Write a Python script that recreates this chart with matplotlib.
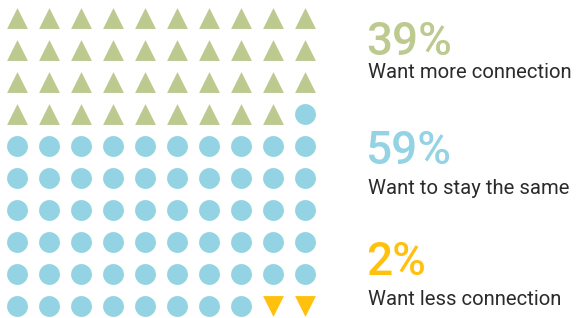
import matplotlib
matplotlib.use("Agg")
import matplotlib.pyplot as plt

# share of answers (out of 100)
labels = ["Want more connection", "Want to stay the same", "Want less connection"]
values = [39, 59, 2]
markers = ["^", "o", "v"]
colors = ["#bcc98f", "#93d3e3", "#ffc10e"]

W, H = 583, 318
fig = plt.figure(figsize=(W / 100, H / 100), dpi=100)

# waffle grid, 10 x 10, filled row by row
ax = fig.add_axes([1 / W, (H - 322) / H, 320 / W, 320 / H])
ax.set_xlim(-0.5, 9.5)
ax.set_ylim(9.5, -0.5)
ax.axis("off")

idx = 0
for v, m, c in zip(values, markers, colors):
    xs = [(idx + k) % 10 for k in range(v)]
    ys = [(idx + k) // 10 for k in range(v)]
    ax.scatter(xs, ys, marker=m, s=15 ** 2, color=c, linewidths=0)
    idx += v

# legend text on the right
pct_base = [55, 164, 275]
lab_base = [78, 194, 305]
for v, lab, c, pb, lb in zip(values, labels, colors, pct_base, lab_base):
    fig.text(366 / W, 1 - pb / H, f"{v}%", color=c, fontsize=33,
             fontweight="medium", family=["Roboto", "DejaVu Sans"], va="baseline")
    fig.text(368 / W, 1 - lb / H, lab, color="#2b2b2b", fontsize=14.6,
             family=["Roboto", "DejaVu Sans"], va="baseline")

fig.savefig("out.png", dpi=100)
